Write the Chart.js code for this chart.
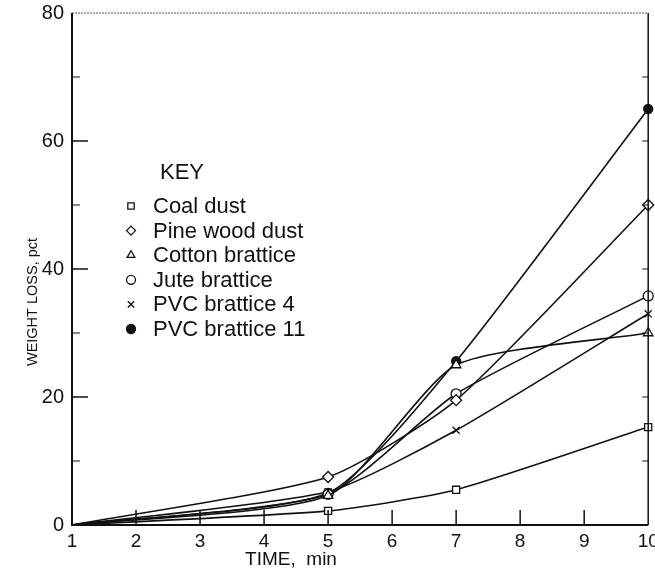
<!DOCTYPE html>
<html>
<head>
<meta charset="utf-8">
<script src="https://cdn.jsdelivr.net/npm/chart.js@4/dist/chart.umd.min.js"></script>
<style>
  html, body { margin: 0; padding: 0; background: #fff; }
  #wrap { width: 655px; height: 573px; }
</style>
</head>
<body>
<div id="wrap"><canvas id="chart" width="655" height="573"></canvas></div>
<script>
// values (time in min, weight loss in pct)
const times = [1, 5, 7, 10];
const coalDust = [0, 2.2, 5.5, 15.3];
const pineWoodDust = [0, 7.5, 19.5, 50];
const cottonBrattice = [0, 4.6, 25, 30];
const juteBrattice = [0, 4.8, 20.5, 35.8];
const pvcBrattice4 = [0, 5.2, 14.8, 33];
const pvcBrattice11 = [0, 5, 25.6, 65];

const seriesNames = ["Coal dust", "Pine wood dust", "Cotton brattice", "Jute brattice", "PVC brattice 4", "PVC brattice 11"];
const xTickValues = [1, 2, 3, 4, 5, 6, 7, 8, 9, 10];
const yTickValues = [0, 20, 40, 60, 80];
const yMinorTicks = [10, 30, 50, 70];

const FONT = "'Liberation Sans', Arial, Helvetica, sans-serif";
const INK = "#111";

const markers = [
  { style: "rect", fill: "#fff", radius: 5 },
  { style: "rectRot", fill: "#fff", radius: 5.5 },
  { style: "triangle", fill: "#fff", radius: 5.5 },
  { style: "circle", fill: "#fff", radius: 5 },
  { style: "crossRot", fill: "#fff", radius: 5 },
  { style: "circle", fill: INK, radius: 4.5 },
];

const toPoints = (vals) => vals.map((v, i) => ({ x: times[i], y: v }));
const allSeries = [coalDust, pineWoodDust, cottonBrattice, juteBrattice, pvcBrattice4, pvcBrattice11];

const datasets = allSeries.map((vals, k) => ({
  label: seriesNames[k],
  data: toPoints(vals),
  showLine: true,
  borderColor: INK,
  borderWidth: 1.6,
  tension: 0.2,
  pointStyle: markers[k].style,
  pointBackgroundColor: markers[k].fill,
  pointBorderColor: INK,
  pointBorderWidth: 1.3,
  pointRadius: (ctx) => (ctx.dataIndex === 0 ? 0 : markers[k].radius),
  clip: false,
}));

// frame, inward ticks, axis titles and the KEY box
const framePlugin = {
  id: "frame",
  afterDatasetsDraw(chart) {
    const { ctx, chartArea: a, scales } = chart;
    const xs = scales.x, ys = scales.y;
    ctx.save();
    ctx.strokeStyle = INK;
    ctx.lineCap = "butt";

    // top (faint dotted)
    ctx.lineWidth = 1;
    ctx.setLineDash([2, 1]);
    ctx.strokeStyle = "#555";
    ctx.beginPath(); ctx.moveTo(a.left, a.top); ctx.lineTo(a.right, a.top); ctx.stroke();
    ctx.setLineDash([]);
    ctx.strokeStyle = INK;

    ctx.lineWidth = 2;
    ctx.beginPath();
    ctx.moveTo(a.left, a.top); ctx.lineTo(a.left, a.bottom); ctx.lineTo(a.right, a.bottom);
    ctx.stroke();
    ctx.lineWidth = 1.5;
    ctx.beginPath(); ctx.moveTo(a.right, a.top); ctx.lineTo(a.right, a.bottom); ctx.stroke();

    // x ticks pointing up
    ctx.lineWidth = 1.5;
    xTickValues.slice(1, -1).forEach((v) => {
      const px = xs.getPixelForValue(v);
      ctx.beginPath(); ctx.moveTo(px, a.bottom); ctx.lineTo(px, a.bottom - 15); ctx.stroke();
    });
    // y ticks pointing right
    yTickValues.slice(1, -1).forEach((v) => {
      const py = ys.getPixelForValue(v);
      ctx.beginPath(); ctx.moveTo(a.left, py); ctx.lineTo(a.left + 16, py); ctx.stroke();
    });
    ctx.lineWidth = 1;
    yMinorTicks.forEach((v) => {
      const py = ys.getPixelForValue(v);
      ctx.beginPath(); ctx.moveTo(a.left, py); ctx.lineTo(a.left + 8, py); ctx.stroke();
    });
    // little ticks on the right edge
    yMinorTicks.concat(yTickValues.slice(1, -1)).forEach((v) => {
      const py = ys.getPixelForValue(v);
      ctx.beginPath(); ctx.moveTo(a.right, py); ctx.lineTo(a.right - 6, py); ctx.stroke();
    });

    // axis titles
    ctx.fillStyle = INK;
    ctx.textAlign = "center";
    ctx.textBaseline = "middle";
    ctx.font = "19px " + FONT;
    ctx.fillText("TIME,  min", 291, 560);
    ctx.save();
    ctx.translate(33, 302);
    ctx.rotate(-Math.PI / 2);
    ctx.font = "14.5px " + FONT;
    ctx.fillText("WEIGHT LOSS, pct", 0, 0);
    ctx.restore();

    // key
    ctx.textAlign = "left";
    ctx.font = "22px " + FONT;
    ctx.fillText("KEY", 160, 173);
    chart.data.datasets.forEach((ds, k) => {
      const y = 206 + k * 24.6;
      ctx.lineWidth = 1.3;
      ctx.strokeStyle = INK;
      ctx.fillStyle = markers[k].fill;
      Chart.helpers.drawPoint(ctx, { pointStyle: markers[k].style, radius: 4.5, rotation: 0, borderWidth: 1.3 }, 131, y);
      ctx.fillStyle = INK;
      ctx.fillText(ds.label, 153, y + 1);
    });
    ctx.restore();
  },
};

new Chart(document.getElementById("chart"), {
  type: "scatter",
  data: { datasets },
  plugins: [framePlugin],
  options: {
    responsive: false,
    animation: false,
    devicePixelRatio: 1,
    layout: { padding: { top: 13, right: 4, left: 0, bottom: 0 } },
    plugins: { legend: { display: false }, tooltip: { enabled: false } },
    scales: {
      x: {
        type: "linear",
        min: 1,
        max: 10,
        afterFit: (s) => { s.height = 48; s.paddingLeft = 0; s.paddingRight = 0; },
        afterBuildTicks: (s) => { s.ticks = xTickValues.map((v) => ({ value: v })); },
        grid: { display: false, drawTicks: false },
        border: { display: false },
        ticks: { autoSkip: false, maxRotation: 0, padding: 5, color: INK, font: { family: FONT, size: 19 } },
      },
      y: {
        min: 0,
        max: 80,
        afterFit: (s) => { s.width = 72; s.paddingTop = 0; s.paddingBottom = 0; },
        afterBuildTicks: (s) => { s.ticks = yTickValues.map((v) => ({ value: v })); },
        grid: { display: false, drawTicks: false },
        border: { display: false },
        ticks: { padding: 8, color: INK, font: { family: FONT, size: 20 } },
      },
    },
  },
});
</script>
</body>
</html>
